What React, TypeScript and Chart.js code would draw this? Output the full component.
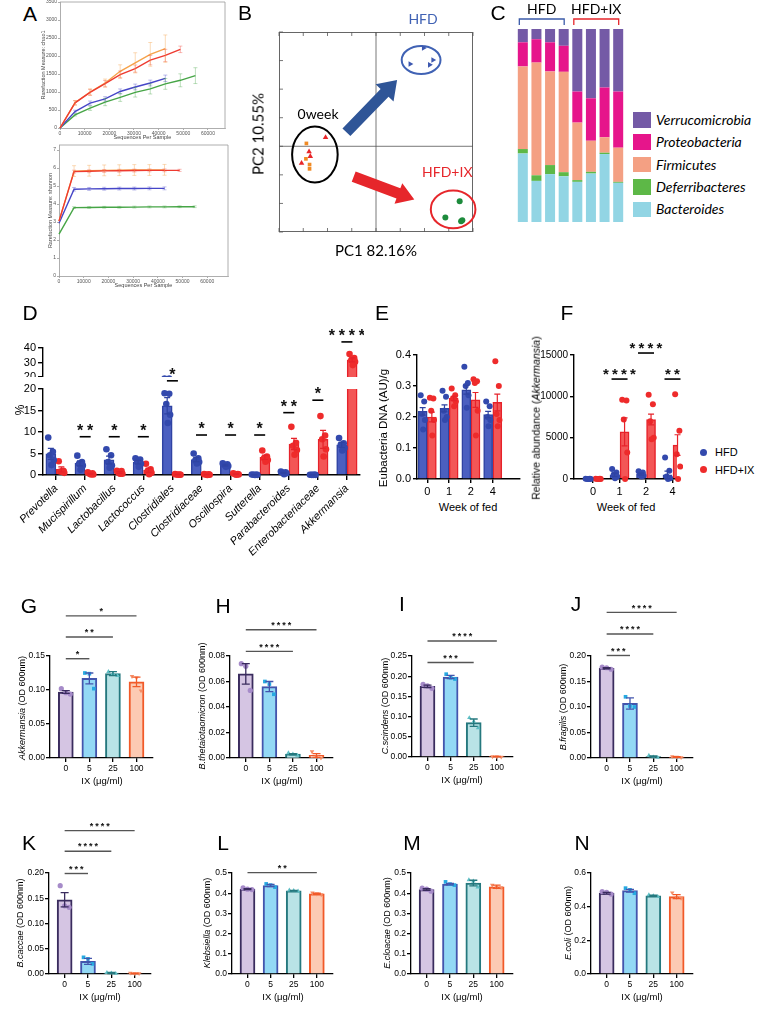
import React, { useEffect, useRef } from 'react';
import { Chart, registerables } from 'chart.js';

Chart.register(...registerables);

const ARIAL = '"Liberation Sans", Arial, Helvetica, sans-serif';
const HUMAN = 'Lato, "Open Sans", "DejaVu Sans", sans-serif';

// ---------------- Panel A (rarefaction) ----------------
const A_X = [0, 6100, 12200, 18300, 24400, 30500, 36600, 42700, 48800, 54900];
const A_X_TICKS = [0, 10000, 20000, 30000, 40000, 50000, 60000];
const A_CHAO_TICKS = [0, 500, 1000, 1500, 2000, 2500, 3000, 3500];
const A_SHAN_TICKS = [0, 1, 2, 3, 4, 5, 6, 7];
const A_CHAO_RED = [0, 700, 990, 1230, 1485, 1650, 1885, 2015, 2185];
const A_CHAO_RED_ERR = [0, 60, 80, 90, 100, 100, 130, 170, 90];
const A_CHAO_ORANGE = [0, 700, 1000, 1250, 1575, 1810, 2045, 2205];
const A_CHAO_ORANGE_ERR = [0, 60, 90, 110, 180, 280, 330, 380];
const A_CHAO_BLUE = [0, 455, 690, 810, 1015, 1140, 1250, 1380];
const A_CHAO_BLUE_ERR = [0, 40, 60, 60, 70, 80, 80, 90];
const A_CHAO_GREEN = [0, 365, 550, 720, 850, 990, 1085, 1225, 1325, 1455];
const A_CHAO_GREEN_ERR = [0, 30, 60, 100, 110, 130, 140, 150, 180, 220];
const A_SHAN_RED = [3.05, 5.8, 5.82, 5.84, 5.85, 5.86, 5.87, 5.87, 5.87];
const A_SHAN_RED_ERR = [0, 0.08, 0.08, 0.08, 0.08, 0.08, 0.08, 0.08, 0.06];
const A_SHAN_ORANGE = [3.05, 5.83, 5.85, 5.87, 5.88, 5.89, 5.89, 5.9];
const A_SHAN_ORANGE_ERR = [0, 0.3, 0.3, 0.3, 0.3, 0.3, 0.3, 0.3];
const A_SHAN_BLUE = [2.93, 4.82, 4.84, 4.85, 4.86, 4.86, 4.87, 4.87];
const A_SHAN_BLUE_ERR = [0, 0.1, 0.08, 0.08, 0.08, 0.08, 0.08, 0.08];
const A_SHAN_GREEN = [2.33, 3.8, 3.81, 3.82, 3.82, 3.83, 3.84, 3.84, 3.85, 3.85];
const A_SHAN_GREEN_ERR = [0, 0.05, 0.05, 0.05, 0.05, 0.05, 0.05, 0.05, 0.05, 0.05];

// ---------------- Panel B (PCoA) ----------------
const B_X_TICKS = [-4, -3, -2, -1, 0, 1, 2, 3, 4];
const B_Y_TICKS = [-3, -2, -1, 0, 1, 2, 3, 4];
const B_HFD_PC1 = [1.96, 2.35, 1.41, 2.21];
const B_HFD_PC2 = [3.44, 3.02, 2.88, 2.85];
const B_W0SQ_PC1 = [-2.87, -2.89, -2.74, -2.74];
const B_W0SQ_PC2 = [0.1, -0.44, -0.64, -0.79];
const B_W0TR_PC1 = [-2.08, -2.76, -2.71, -3.07];
const B_W0TR_PC2 = [0.31, -0.19, -0.35, -0.59];
const B_IX_PC1 = [3.45, 2.86, 3.51, 3.56];
const B_IX_PC2 = [-1.92, -2.49, -2.62, -2.59];
const B_GROUPS = ['HFD', '0week', 'HFD+IX'];
const B_GROUP_CX = [1.86, -2.52, 3.18];
const B_GROUP_CY = [3.02, -0.29, -2.21];
const B_GROUP_RX = [0.8, 0.94, 0.92];
const B_GROUP_RY = [0.49, 0.98, 0.66];
const B_LABEL_X = [1.94, -2.39, 2.94];
const B_LABEL_Y = [4.45, 1.13, -0.91];
const B_ARROW_FROM = [[-1.22, 0.49], [-0.92, -1.06]];
const B_ARROW_TO = [[0.87, 2.32], [1.58, -1.86]];

// ---------------- Panel C (phylum composition) ----------------
const C_SAMPLES = ['HFD-1', 'HFD-2', 'HFD-3', 'HFD-4', 'IX-1', 'IX-2', 'IX-3', 'IX-4'];
const C_PHYLA = ['Bacteroides', 'Deferribacteres', 'Firmicutes', 'Proteobacteria', 'Verrucomicrobia'];
const C_BACTEROIDES = [35.5, 21.3, 24.8, 23.7, 20.8, 25.1, 35.2, 20.3];
const C_DEFERRIBACTERES = [2.3, 2.9, 4.7, 2.1, 0.9, 0.9, 0.7, 0.5];
const C_FIRMICUTES = [42.8, 58.4, 48.5, 52.0, 29.8, 16.1, 8.0, 17.7];
const C_PROTEOBACTERIA = [12.5, 12.1, 15.1, 13.5, 16.1, 22.0, 25.8, 29.1];
const C_VERRUCOMICROBIA = [6.9, 5.3, 6.9, 8.7, 32.4, 35.9, 30.3, 32.4];
const C_BRACKETS = [{ label: 'HFD', from: 0, to: 3 }, { label: 'HFD+IX', from: 4, to: 7 }];

// ---------------- Panel D ----------------
const D_TAXA = ['Prevotella', 'Mucispirillum', 'Lactobacillus', 'Lactococcus', 'Clostridiales', 'Clostridiaceae', 'Oscillospira', 'Sutterella', 'Parabacteroides', 'Enterobacteriaceae', 'Akkermansia'];
const D_LOW_TICKS = [0, 5, 10, 15, 20];
const D_TOP_TICKS = [20, 30, 40];
const D_HFD_MEAN = [4.9, 2.7, 3.5, 3.0, 16.1, 3.6, 2.3, 0.05, 0.5, 0.05, 7.0];
const D_HFD_SEM = [1.3, 0.6, 0.9, 0.4, 1.9, 0.5, 0.2, 0.02, 0.1, 0.01, 0.6];
const D_IX_MEAN = [1.3, 0.3, 0.6, 1.1, 0.1, 0.1, 0.2, 4.1, 7.2, 8.3, 31.8];
const D_IX_SEM = [0.6, 0.1, 0.2, 0.5, 0.04, 0.04, 0.07, 0.5, 1.3, 2.1, 1.4];
const D_HFD_PTS = [
  [8.7, 5.4, 4.6, 3.5, 2.3], [4.5, 3.0, 2.6, 2.2, 1.2], [6.0, 4.6, 3.0, 2.2, 1.7], [3.9, 3.6, 3.0, 2.6, 1.9],
  [19.0, 18.9, 16.5, 14.0, 12.1], [5.0, 3.9, 3.4, 3.0, 2.7], [2.7, 2.5, 2.3, 2.1, 1.9], [0.1, 0.05, 0.05, 0.03, 0.02],
  [0.8, 0.6, 0.5, 0.4, 0.2], [0.05, 0.05, 0.04, 0.04, 0.03], [8.6, 7.4, 7.0, 6.3, 5.7],
];
const D_IX_PTS = [
  [3.2, 1.0, 0.8, 0.5, 0.8], [0.6, 0.4, 0.3, 0.1, 0.1], [1.0, 0.9, 0.5, 0.3, 0.3], [2.6, 1.3, 0.9, 0.5, 0.2],
  [0.2, 0.1, 0.1, 0.05, 0.05], [0.2, 0.15, 0.1, 0.05, 0.0], [0.4, 0.25, 0.2, 0.1, 0.05], [5.7, 4.3, 3.9, 3.5, 3.1],
  [11.2, 7.5, 6.8, 5.8, 4.7], [13.7, 9.2, 8.3, 6.0, 4.3], [35.8, 33.0, 31.5, 30.5, 28.2],
];
const D_SIG = [
  { from: 1, to: 1, y: 8.9, label: '**' }, { from: 2, to: 2, y: 8.9, label: '*' }, { from: 3, to: 3, y: 8.9, label: '*' },
  { from: 4, to: 4, y: 21.9, label: '*' }, { from: 5, to: 5, y: 9.3, label: '*' }, { from: 6, to: 6, y: 9.3, label: '*' },
  { from: 7, to: 7, y: 9.3, label: '*' }, { from: 8, to: 8, y: 14.5, label: '**' }, { from: 9, to: 9, y: 17.4, label: '*' },
];
const D_SIG_TOP = [{ from: 10, to: 10, y: 44.2, label: '****' }];

// ---------------- Panels E and F ----------------
const WEEKS = ['0', '1', '2', '4'];
const E_TICKS = [0, 0.1, 0.2, 0.3, 0.4];
const E_HFD_MEAN = [0.218, 0.228, 0.288, 0.208];
const E_HFD_SEM = [0.012, 0.011, 0.014, 0.01];
const E_IX_MEAN = [0.2, 0.26, 0.255, 0.247];
const E_IX_SEM = [0.016, 0.007, 0.024, 0.027];
const E_HFD_PTS = [[0.27, 0.25, 0.21, 0.19, 0.16], [0.285, 0.265, 0.22, 0.2, 0.19], [0.362, 0.31, 0.3, 0.27, 0.23], [0.25, 0.235, 0.2, 0.19, 0.17]];
const E_IX_PTS = [[0.262, 0.26, 0.22, 0.19, 0.14], [0.292, 0.27, 0.26, 0.25, 0.235], [0.322, 0.315, 0.31, 0.22, 0.14], [0.38, 0.3, 0.21, 0.19, 0.17]];
const F_TICKS = [0, 5000, 10000, 15000];
const F_HFD_MEAN = [0, 500, 600, 500];
const F_HFD_SEM = [0, 200, 120, 450];
const F_IX_MEAN = [0, 5700, 7200, 4100];
const F_IX_SEM = [0, 1700, 650, 1250];
const F_HFD_PTS = [[30, 20, 10, 0, 0], [1200, 800, 500, 300, 100], [950, 800, 600, 400, 300], [2600, 1000, 300, 100, 0]];
const F_IX_PTS = [[30, 20, 10, 0, 0], [9600, 9500, 7200, 3200, 0], [10200, 9050, 7000, 5000, 4800], [10250, 5850, 3000, 1500, 0]];
const F_SIG = [{ from: 1, to: 1, y: 12090, label: '****' }, { from: 2, to: 2, y: 15240, label: '****' }, { from: 3, to: 3, y: 12090, label: '**' }];

// ---------------- Panels G - N (IX dose) ----------------
const DOSES = ['0', '5', '25', '100'];
const G_Y_TICKS = [0, 0.05, 0.1, 0.15];
const G_MEAN = [0.097, 0.117, 0.124, 0.112];
const G_SEM = [0.002, 0.008, 0.003, 0.007];
const G_PTS = [[0.102, 0.096, 0.094], [0.125, 0.124, 0.102], [0.127, 0.124, 0.121], [0.12, 0.118, 0.099]];
const G_SIG = [{ from: 0, to: 1, y: 0.146, label: '*' }, { from: 0, to: 2, y: 0.178, label: '**' }, { from: 0, to: 3, y: 0.209, label: '*' }];
const H_Y_TICKS = [0, 0.02, 0.04, 0.06, 0.08];
const H_MEAN = [0.066, 0.056, 0.003, 0.002];
const H_SEM = [0.008, 0.004, 0.0005, 0.0015];
const H_PTS = [[0.074, 0.072, 0.053], [0.06, 0.058, 0.05], [0.004, 0.003, 0.002], [0.005, 0.001, 0.0]];
const H_SIG = [{ from: 0, to: 2, y: 0.0836, label: '****' }, { from: 0, to: 3, y: 0.1006, label: '****' }];
const I_Y_TICKS = [0, 0.05, 0.1, 0.15, 0.2, 0.25];
const I_MEAN = [0.175, 0.198, 0.085, 0.001];
const I_SEM = [0.003, 0.004, 0.009, 0.0005];
const I_PTS = [[0.18, 0.176, 0.17], [0.205, 0.196, 0.193], [0.097, 0.088, 0.072], [0.001, 0.001, 0.0]];
const I_SIG = [{ from: 0, to: 2, y: 0.234, label: '***' }, { from: 0, to: 3, y: 0.287, label: '****' }];
const J_Y_TICKS = [0, 0.05, 0.1, 0.15, 0.2];
const J_MEAN = [0.176, 0.107, 0.003, 0.002];
const J_SEM = [0.001, 0.011, 0.001, 0.0005];
const J_PTS = [[0.178, 0.177, 0.174], [0.12, 0.102, 0.1], [0.005, 0.002, 0.001], [0.003, 0.002, 0.001]];
const J_SIG = [{ from: 0, to: 1, y: 0.201, label: '***' }, { from: 0, to: 2, y: 0.243, label: '****' }, { from: 0, to: 3, y: 0.2855, label: '****' }];
const K_Y_TICKS = [0, 0.05, 0.1, 0.15, 0.2];
const K_MEAN = [0.147, 0.025, 0.002, 0.001];
const K_SEM = [0.014, 0.006, 0.001, 0.0005];
const K_PTS = [[0.175, 0.135, 0.132], [0.033, 0.03, 0.02], [0.003, 0.002, 0.001], [0.002, 0.001, 0.001]];
const K_SIG = [{ from: 0, to: 1, y: 0.199, label: '***' }, { from: 0, to: 2, y: 0.243, label: '****' }, { from: 0, to: 3, y: 0.284, label: '****' }];
const L_Y_TICKS = [0, 0.1, 0.2, 0.3, 0.4, 0.5];
const L_MEAN = [0.42, 0.438, 0.412, 0.397];
const L_SEM = [0.002, 0.005, 0.002, 0.003];
const L_PTS = [[0.426, 0.42, 0.418], [0.446, 0.44, 0.43], [0.415, 0.413, 0.41], [0.402, 0.397, 0.393]];
const L_SIG = [{ from: 0, to: 3, y: 0.502, label: '**' }];
const M_Y_TICKS = [0, 0.1, 0.2, 0.3, 0.4, 0.5];
const M_MEAN = [0.418, 0.445, 0.45, 0.432];
const M_SEM = [0.004, 0.004, 0.014, 0.008];
const M_PTS = [[0.425, 0.42, 0.41], [0.456, 0.445, 0.44], [0.466, 0.46, 0.43], [0.44, 0.43, 0.428]];
const N_Y_TICKS = [0, 0.2, 0.4, 0.6];
const N_MEAN = [0.48, 0.495, 0.465, 0.46];
const N_SEM = [0.005, 0.008, 0.004, 0.012];
const N_PTS = [[0.49, 0.485, 0.475], [0.51, 0.5, 0.48], [0.47, 0.465, 0.46], [0.483, 0.455, 0.45]];

// ---------------- styles ----------------
const A_COL = { red: '#ee3a30', orange: '#f6a24a', blue: '#4646c8', green: '#46a546' };
const A_ERR = { red: 'rgba(238,58,48,0.45)', orange: 'rgba(246,162,74,0.5)', blue: 'rgba(70,70,200,0.45)', green: 'rgba(70,165,70,0.45)' };
const C_COLORS = ['#92d5e4', '#5db847', '#f4a083', '#e6158b', '#745aa6'];
const BLUE_FILL = '#4b5fc0', BLUE_EDGE = '#2f43a2', BLUE_PT = '#3349ad';
const RED_FILL = '#f35656', RED_EDGE = '#e6222a', RED_PT = '#ee2b2b';
const DOSE_FILL = ['#d5c5e3', '#93d9f5', '#b9e3e6', '#fccab3'];
const DOSE_EDGE = ['#3a2c5e', '#4355ad', '#25787e', '#f15a29'];
const DOSE_PT = ['#a68bc9', '#27aae1', '#5fc0c6', '#f68e67'];
const DOSE_SHAPE = ['circle', 'rect', 'triangle', 'triangle'];
const DOSE_ROT = [0, 0, 0, 180];
const JIT5 = [-0.09, 0.07, -0.03, 0.1, 0.02, -0.06];
const JIT3 = [-0.19, 0.0, 0.19];

// ---------------- helpers ----------------
type Frame = { box: { left: number; top: number; width: number; height: number }; L: number; T: number; R: number; B: number };
function frame(x0: number, y0: number, x1: number, y1: number, L: number, T: number, R: number, B: number): Frame {
  const a = Math.round(x0), b = Math.round(y0), c = Math.round(x1), d = Math.round(y1);
  return { box: { left: a - L, top: b - T, width: c - a + L + R, height: d - b + T + B }, L, T, R, B };
}
const zeroPad = (s: any) => { s.paddingLeft = 0; s.paddingRight = 0; s.paddingTop = 0; s.paddingBottom = 0; };
const fitW = (w: number) => (s: any) => { s.width = w; zeroPad(s); };
const fitH = (h: number) => (s: any) => { s.height = h; zeroPad(s); };
const setTicks = (vals: number[]) => (s: any) => { s.ticks = vals.map((v) => ({ value: v })); };

function baseOptions(f: Frame, scales: any) {
  return {
    animation: false,
    responsive: false,
    maintainAspectRatio: false,
    events: [],
    layout: { padding: { left: 0, top: f.T, right: f.R, bottom: 0 }, autoPadding: false },
    plugins: { legend: { display: false }, tooltip: { enabled: false }, title: { display: false } },
    scales,
  };
}

function yAxis(o: any) {
  const color = o.color ?? '#000';
  const lw = o.lw ?? 1.4;
  return {
    type: 'linear', display: o.display ?? true, min: o.min, max: o.max,
    afterBuildTicks: setTicks(o.ticks), afterFit: fitW(o.w),
    ticks: { autoSkip: false, maxRotation: 0, minRotation: 0, padding: o.pad ?? 2, color: o.tickColor ?? color, font: { family: ARIAL, size: o.size }, callback: (v: number) => o.fmt(v) },
    grid: { drawOnChartArea: false, drawTicks: true, tickLength: o.tl ?? 4, color, lineWidth: o.glw ?? lw, offset: false },
    border: { display: true, color, width: lw },
    title: o.title ?? { display: false },
  };
}

function xAxis(o: any) {
  const color = o.color ?? '#000';
  const lw = o.lw ?? 1.4;
  return {
    type: 'linear', display: o.display ?? true, min: o.min, max: o.max, offset: false,
    afterBuildTicks: setTicks(o.ticks), afterFit: fitH(o.h),
    ticks: {
      autoSkip: false, maxRotation: o.rot ?? 0, minRotation: o.rot ?? 0, padding: o.pad ?? 2, color: o.tickColor ?? color,
      font: { family: ARIAL, size: o.size, style: o.italic ? 'italic' : 'normal' },
      callback: (v: number, i: number) => o.labels(v, i),
    },
    grid: { drawOnChartArea: false, drawTicks: true, tickLength: o.tl ?? 4, color, lineWidth: o.glw ?? lw, offset: false },
    border: { display: true, color, width: lw },
    title: o.title ?? { display: false },
  };
}

function errPlugin(items: any[], bottomPad = 2) {
  return {
    id: 'errbars',
    afterDatasetsDraw(chart: any) {
      const ctx = chart.ctx;
      const ca = chart.chartArea;
      ctx.save();
      ctx.beginPath();
      ctx.rect(ca.left - 6, ca.top - 2, ca.right - ca.left + 12, ca.bottom - ca.top + 2 + bottomPad);
      ctx.clip();
      items.forEach((it) => {
        const meta = chart.getDatasetMeta(it.ds);
        const ys = chart.scales[meta.yAxisID];
        const ds = chart.data.datasets[it.ds];
        meta.data.forEach((el: any, i: number) => {
          const e = it.err[i];
          if (!e) return;
          const raw = ds.data[i];
          const v = typeof raw === 'number' ? raw : raw.y;
          const x = el.x;
          const yt = ys.getPixelForValue(v + e);
          const yb = ys.getPixelForValue(v - e);
          ctx.strokeStyle = Array.isArray(it.color) ? it.color[i] : it.color;
          ctx.lineWidth = it.lw;
          ctx.beginPath();
          ctx.moveTo(x, yb); ctx.lineTo(x, yt);
          ctx.moveTo(x - it.cap, yt); ctx.lineTo(x + it.cap, yt);
          ctx.moveTo(x - it.cap, yb); ctx.lineTo(x + it.cap, yb);
          ctx.stroke();
        });
      });
      ctx.restore();
    },
  };
}

function sigPlugin(items: any[], o: any) {
  return {
    id: 'sig',
    afterDraw(chart: any) {
      const ctx = chart.ctx;
      const xs = chart.scales.x, ys = chart.scales.y;
      ctx.save();
      items.forEach((it) => {
        const a = xs.getPixelForValue(it.from) - o.ext;
        const b = xs.getPixelForValue(it.to) + o.ext;
        const y = ys.getPixelForValue(it.y);
        ctx.strokeStyle = o.color; ctx.lineWidth = o.lw;
        ctx.beginPath(); ctx.moveTo(a, y); ctx.lineTo(b, y); ctx.stroke();
        ctx.fillStyle = '#111';
        ctx.font = `bold ${o.size}px ${ARIAL}`;
        ctx.textAlign = 'center'; ctx.textBaseline = 'alphabetic';
        const n = it.label.length, cx = (a + b) / 2;
        for (let k = 0; k < n; k++) ctx.fillText('*', cx + (k - (n - 1) / 2) * o.pitch, y - o.gap + o.size * 0.57);
      });
      ctx.restore();
    },
  };
}

function boxPlugin(color: string) {
  return {
    id: 'boxframe',
    afterDraw(chart: any) {
      const { ctx, chartArea: ca } = chart;
      ctx.save();
      ctx.strokeStyle = color; ctx.lineWidth = 0.8;
      ctx.beginPath();
      ctx.moveTo(ca.left, ca.top); ctx.lineTo(ca.right, ca.top); ctx.lineTo(ca.right, ca.bottom);
      ctx.stroke();
      ctx.restore();
    },
  };
}

function ptsDs(pts: number[][], offset: number, jit: number[], color: string, radius: number, clip: any = 6, style = 'circle', rotation = 0) {
  const data: any[] = [];
  pts.forEach((arr, i) => arr.forEach((v, k) => data.push({ x: i + offset + jit[k % jit.length], y: v })));
  return { type: 'scatter', data, pointRadius: radius, pointStyle: style, rotation, backgroundColor: color, borderColor: color, borderWidth: 0, clip, order: 0 };
}

function barDs(means: number[], offset: number, fill: any, edge: any, thick: number, bw: number) {
  return {
    type: 'bar', data: means.map((v, i) => ({ x: i + offset, y: v })), backgroundColor: fill, borderColor: edge,
    borderWidth: bw, barThickness: thick, grouped: false, clip: 0, order: 1,
  };
}

// ---------------- panel configs ----------------
function panelA(top: boolean) {
  const f = top ? frame(60, 2, 225, 128, 20, 2, 3, 13) : frame(59, 145, 228, 276, 12, 3, 3, 13);
  const series: any[] = top
    ? [[A_CHAO_RED, A_CHAO_RED_ERR, 'red'], [A_CHAO_ORANGE, A_CHAO_ORANGE_ERR, 'orange'], [A_CHAO_BLUE, A_CHAO_BLUE_ERR, 'blue'], [A_CHAO_GREEN, A_CHAO_GREEN_ERR, 'green']]
    : [[A_SHAN_RED, A_SHAN_RED_ERR, 'red'], [A_SHAN_ORANGE, A_SHAN_ORANGE_ERR, 'orange'], [A_SHAN_BLUE, A_SHAN_BLUE_ERR, 'blue'], [A_SHAN_GREEN, A_SHAN_GREEN_ERR, 'green']];
  const make = () => ({
    type: 'line',
    data: {
      datasets: series.map(([ys, , c]) => ({
        data: ys.map((v: number, i: number) => ({ x: A_X[i], y: v })), borderColor: (A_COL as any)[c], borderWidth: 1.4,
        pointRadius: 0, fill: false, tension: 0, clip: 2,
      })),
    },
    options: baseOptions(f, {
      x: xAxis({
        min: 0, max: top ? 66900 : 68400, ticks: A_X_TICKS, labels: (v: number) => String(v), h: f.B, size: 5, color: '#999', tickColor: '#555', lw: 0.8, tl: 2, pad: 1,
        title: { display: true, text: 'Sequences Per Sample', color: '#444', font: { family: ARIAL, size: 5.5 }, padding: 0 },
      }),
      y: yAxis({
        min: 0, max: top ? 3500 : 7.28, ticks: top ? A_CHAO_TICKS : A_SHAN_TICKS, fmt: (v: number) => String(v), w: f.L, size: 5, color: '#999', tickColor: '#555', lw: 0.8, tl: 2, pad: 1,
        title: { display: true, text: top ? 'Rarefaction Measure: chao1' : 'Rarefaction Measure: shannon', color: '#444', font: { family: ARIAL, size: 5.5 }, padding: 0 },
      }),
    }),
    plugins: [errPlugin(series.map(([, e, c], i) => ({ ds: i, err: e, color: (A_ERR as any)[c], cap: 2, lw: 0.8 }))), boxPlugin('#999')],
  });
  return { key: top ? 'A1' : 'A2', f, make };
}

function drawArrow(ctx: any, x1: number, y1: number, x2: number, y2: number, shaft: number, headW: number, headL: number, color: string) {
  const dx = x2 - x1, dy = y2 - y1, len = Math.hypot(dx, dy);
  const ux = dx / len, uy = dy / len, nx = -uy, ny = ux;
  const bx = x2 - ux * headL, by = y2 - uy * headL;
  ctx.fillStyle = color;
  ctx.beginPath();
  ctx.moveTo(x1 + nx * shaft / 2, y1 + ny * shaft / 2);
  ctx.lineTo(bx + nx * shaft / 2, by + ny * shaft / 2);
  ctx.lineTo(bx + nx * headW / 2, by + ny * headW / 2);
  ctx.lineTo(x2, y2);
  ctx.lineTo(bx - nx * headW / 2, by - ny * headW / 2);
  ctx.lineTo(bx - nx * shaft / 2, by - ny * shaft / 2);
  ctx.lineTo(x1 - nx * shaft / 2, y1 - ny * shaft / 2);
  ctx.closePath();
  ctx.fill();
}

function panelB() {
  const f: Frame = { box: { left: 230, top: 0, width: 260, height: 240 }, L: 49, T: 32, R: 17, B: 8 };
  const groupColors = ['#4062b4', '#000000', '#e6262b'];
  const arrowColors = ['#2f5597', '#e6262b'];
  const plugin = {
    id: 'pcoa',
    beforeDatasetsDraw(chart: any) {
      const { ctx, chartArea: ca } = chart;
      const x = chart.scales.x, y = chart.scales.y;
      ctx.save();
      ctx.strokeStyle = '#666'; ctx.lineWidth = 1;
      ctx.strokeRect(ca.left + 0.5, ca.top + 0.5, ca.right - ca.left - 1, ca.bottom - ca.top - 1);
      const x0 = x.getPixelForValue(0), y0 = y.getPixelForValue(0);
      ctx.strokeStyle = '#555'; ctx.lineWidth = 0.8;
      ctx.beginPath();
      ctx.moveTo(x0, ca.top); ctx.lineTo(x0, ca.bottom);
      ctx.moveTo(ca.left, y0); ctx.lineTo(ca.right, y0);
      B_X_TICKS.forEach((v) => {
        const px = x.getPixelForValue(v);
        ctx.moveTo(px, ca.bottom); ctx.lineTo(px, ca.bottom - 4);
        ctx.moveTo(px, ca.top); ctx.lineTo(px, ca.top + 4);
      });
      B_Y_TICKS.forEach((v) => {
        const py = y.getPixelForValue(v);
        ctx.moveTo(ca.left, py); ctx.lineTo(ca.left + 4, py);
      });
      ctx.stroke();
      B_ARROW_FROM.forEach((a, i) => {
        const b = B_ARROW_TO[i];
        drawArrow(ctx, x.getPixelForValue(a[0]), y.getPixelForValue(a[1]), x.getPixelForValue(b[0]), y.getPixelForValue(b[1]), 11, i === 0 ? 25 : 22, i === 0 ? 18 : 17, arrowColors[i]);
      });
      B_GROUPS.forEach((g, i) => {
        const cx = x.getPixelForValue(B_GROUP_CX[i]), cy = y.getPixelForValue(B_GROUP_CY[i]);
        const rx = Math.abs(x.getPixelForValue(B_GROUP_CX[i] + B_GROUP_RX[i]) - cx);
        const ry = Math.abs(y.getPixelForValue(B_GROUP_CY[i] + B_GROUP_RY[i]) - cy);
        ctx.strokeStyle = groupColors[i]; ctx.lineWidth = 2;
        ctx.beginPath(); ctx.ellipse(cx, cy, rx, ry, 0, 0, Math.PI * 2); ctx.stroke();
        ctx.fillStyle = groupColors[i];
        ctx.font = `14px ${HUMAN}`; ctx.textAlign = 'center'; ctx.textBaseline = 'middle';
        ctx.fillText(g, x.getPixelForValue(B_LABEL_X[i]), y.getPixelForValue(B_LABEL_Y[i]));
      });
      ctx.restore();
    },
  };
  const pts = (xs: number[], ys: number[]) => xs.map((v, i) => ({ x: v, y: ys[i] }));
  const make = () => ({
    type: 'scatter',
    data: {
      datasets: [
        { data: pts(B_HFD_PC1, B_HFD_PC2), pointStyle: 'triangle', rotation: 90, pointRadius: 3.2, backgroundColor: '#3d58b0', borderWidth: 0 },
        { data: pts(B_W0SQ_PC1, B_W0SQ_PC2), pointStyle: 'rect', pointRadius: 2.6, backgroundColor: '#f08a24', borderWidth: 0 },
        { data: pts(B_W0TR_PC1, B_W0TR_PC2), pointStyle: 'triangle', pointRadius: 3.2, backgroundColor: '#e8262a', borderWidth: 0 },
        { data: pts(B_IX_PC1, B_IX_PC2), pointStyle: 'circle', pointRadius: 3, backgroundColor: '#1d8b3c', borderWidth: 0 },
      ],
    },
    options: {
      animation: false, responsive: false, events: [],
      layout: { padding: { left: f.L, top: f.T, right: f.R, bottom: f.B }, autoPadding: false },
      plugins: { legend: { display: false }, tooltip: { enabled: false } },
      scales: { x: { type: 'linear', display: false, min: -4, max: 4 }, y: { type: 'linear', display: false, min: -3, max: 4 } },
    },
    plugins: [plugin],
  });
  return { key: 'B', f, make };
}

function panelC() {
  const f: Frame = { box: { left: 480, top: 0, width: 150, height: 230 }, L: 36, T: 29, R: 5, B: 8 };
  const series = [C_BACTEROIDES, C_DEFERRIBACTERES, C_FIRMICUTES, C_PROTEOBACTERIA, C_VERRUCOMICROBIA];
  const bracketColors = ['#3b5ba9', '#e6262b'];
  const plugin = {
    id: 'brackets',
    afterDraw(chart: any) {
      const { ctx, chartArea: ca } = chart;
      const x = chart.scales.x;
      ctx.save();
      C_BRACKETS.forEach((g, i) => {
        const a = x.getPixelForValue(g.from) - 3.5, b = x.getPixelForValue(g.to) + 0.5;
        const yl = ca.top - 10, ye = ca.top - 4;
        ctx.strokeStyle = bracketColors[i]; ctx.lineWidth = 1.3;
        ctx.beginPath(); ctx.moveTo(a, ye); ctx.lineTo(a, yl); ctx.lineTo(b, yl); ctx.lineTo(b, ye); ctx.stroke();
        ctx.fillStyle = '#000';
        ctx.font = `14px ${HUMAN}`; ctx.textAlign = 'center'; ctx.textBaseline = 'middle';
        ctx.fillText(g.label, (a + b) / 2, ca.top - 20);
      });
      ctx.restore();
    },
  };
  const make = () => ({
    type: 'bar',
    data: {
      labels: C_SAMPLES,
      datasets: series.map((s, i) => ({ label: C_PHYLA[i], data: s, backgroundColor: C_COLORS[i], borderWidth: 0, barPercentage: 0.735, categoryPercentage: 1 })),
    },
    options: {
      animation: false, responsive: false, events: [],
      layout: { padding: { left: f.L, top: f.T, right: f.R, bottom: f.B }, autoPadding: false },
      plugins: { legend: { display: false }, tooltip: { enabled: false } },
      scales: { x: { display: false, stacked: true }, y: { display: false, stacked: true, min: 0, max: 100 } },
    },
    plugins: [plugin],
  });
  return { key: 'C', f, make };
}

const D_X_MIN = -0.45, D_X_MAX = 10.45, D_OFF = 0.18;
function panelD(upper: boolean) {
  const f = upper ? frame(43, 348, 360, 377, 40, 30, 4, 0) : frame(43, 389, 360, 475, 40, 32, 4, 92);
  const clip = upper ? { left: 6, right: 6, top: 6, bottom: 0 } : 6;
  const make = () => ({
    type: 'bar',
    data: {
      datasets: [
        ptsDs(D_HFD_PTS, -D_OFF, JIT5, BLUE_PT, 3.3, clip),
        ptsDs(D_IX_PTS, D_OFF, JIT5, RED_PT, 3.3, clip),
        barDs(D_HFD_MEAN, -D_OFF, BLUE_FILL, BLUE_EDGE, 10, 1.5),
        barDs(D_IX_MEAN, D_OFF, RED_FILL, RED_EDGE, 10, 1.5),
      ],
    },
    options: baseOptions(f, {
      x: xAxis({ display: !upper, min: D_X_MIN, max: D_X_MAX, ticks: D_TAXA.map((_, i) => i), labels: (_v: number, i: number) => D_TAXA[i], h: f.B, size: 11, rot: 45, italic: true, tl: 5 }),
      y: yAxis({ min: upper ? 20 : 0, max: upper ? 40 : 20, ticks: upper ? D_TOP_TICKS : D_LOW_TICKS, fmt: (v: number) => String(v), w: f.L, size: 11, tl: 5 }),
    }),
    plugins: [
      errPlugin([{ ds: 2, err: D_HFD_SEM, color: BLUE_EDGE, cap: 3, lw: 1.2 }, { ds: 3, err: D_IX_SEM, color: RED_EDGE, cap: 3, lw: 1.2 }], upper ? -2 : 2),
      sigPlugin(upper ? D_SIG_TOP : D_SIG, { ext: 5.5, lw: 1.6, color: '#000', size: 16, pitch: 10, gap: 10 }),
    ],
  });
  return { key: upper ? 'D2' : 'D1', f, make };
}

function panelEF(isF: boolean) {
  const f = isF ? frame(574, 355, 677, 479, 40, 30, 6, 18) : frame(417, 355, 520, 479, 32, 12, 4, 18);
  const off = isF ? 0.19 : 0.21;
  const make = () => ({
    type: 'bar',
    data: {
      datasets: [
        ptsDs(isF ? F_HFD_PTS : E_HFD_PTS, -off, JIT5, BLUE_PT, 3),
        ptsDs(isF ? F_IX_PTS : E_IX_PTS, off, JIT5, RED_PT, 3),
        barDs(isF ? F_HFD_MEAN : E_HFD_MEAN, -off, BLUE_FILL, BLUE_EDGE, 9, 1.5),
        barDs(isF ? F_IX_MEAN : E_IX_MEAN, off, RED_FILL, RED_EDGE, 9, 1.5),
      ],
    },
    options: baseOptions(f, {
      x: xAxis({ min: isF ? -0.72 : -0.47, max: isF ? 3.17 : 4.25, ticks: WEEKS.map((_, i) => i), labels: (_v: number, i: number) => WEEKS[i], h: f.B, size: 11, tl: 4 }),
      y: yAxis({
        min: 0, max: isF ? 15000 : 0.4, ticks: isF ? F_TICKS : E_TICKS, fmt: (v: number) => (isF ? String(v) : v.toFixed(1)), w: f.L, size: isF ? 10 : 11, tl: 4,
      }),
    }),
    plugins: [
      errPlugin([
        { ds: 2, err: isF ? F_HFD_SEM : E_HFD_SEM, color: BLUE_EDGE, cap: 3, lw: 1.2 },
        { ds: 3, err: isF ? F_IX_SEM : E_IX_SEM, color: RED_EDGE, cap: 3, lw: 1.2 },
      ]),
      sigPlugin(isF ? F_SIG : [], { ext: 8, lw: 1.6, color: '#000', size: 15, pitch: 9, gap: 9 }),
    ],
  });
  return { key: isF ? 'F' : 'E', f, make };
}

const DOSE_PANELS = [
  { key: 'G', x0: 50, y0: 656, x1: 153, y1: 758, ticks: G_Y_TICKS, dec: 2, mean: G_MEAN, sem: G_SEM, pts: G_PTS, sig: G_SIG },
  { key: 'H', x0: 230, y0: 656, x1: 333, y1: 758, ticks: H_Y_TICKS, dec: 2, mean: H_MEAN, sem: H_SEM, pts: H_PTS, sig: H_SIG },
  { key: 'I', x0: 412, y0: 656, x1: 513, y1: 757, ticks: I_Y_TICKS, dec: 2, mean: I_MEAN, sem: I_SEM, pts: I_PTS, sig: I_SIG },
  { key: 'J', x0: 591, y0: 656, x1: 693, y1: 758, ticks: J_Y_TICKS, dec: 2, mean: J_MEAN, sem: J_SEM, pts: J_PTS, sig: J_SIG },
  { key: 'K', x0: 49, y0: 873, x1: 151, y1: 974, ticks: K_Y_TICKS, dec: 2, mean: K_MEAN, sem: K_SEM, pts: K_PTS, sig: K_SIG },
  { key: 'L', x0: 232, y0: 873, x1: 333, y1: 974, ticks: L_Y_TICKS, dec: 1, mean: L_MEAN, sem: L_SEM, pts: L_PTS, sig: L_SIG },
  { key: 'M', x0: 411, y0: 873, x1: 513, y1: 974, ticks: M_Y_TICKS, dec: 1, mean: M_MEAN, sem: M_SEM, pts: M_PTS, sig: [] as any[] },
  { key: 'N', x0: 591, y0: 873, x1: 693, y1: 974, ticks: N_Y_TICKS, dec: 1, mean: N_MEAN, sem: N_SEM, pts: N_PTS, sig: [] as any[] },
];

function dosePanel(p: any) {
  const f = frame(p.x0, p.y0, p.x1, p.y1, 30, 62, 4, 18);
  const make = () => ({
    type: 'bar',
    data: {
      datasets: [
        ...DOSES.map((_, d) => ({
          type: 'scatter', data: p.pts[d].map((v: number, k: number) => ({ x: d + JIT3[k], y: v })),
          pointStyle: DOSE_SHAPE[d], rotation: DOSE_ROT[d], pointRadius: 2.6, backgroundColor: DOSE_PT[d], borderWidth: 0, clip: 6, order: 0,
        })),
        barDs(p.mean, 0, DOSE_FILL, DOSE_EDGE, 15, 2),
      ],
    },
    options: baseOptions(f, {
      x: xAxis({ min: -0.67, max: 3.7, ticks: DOSES.map((_, i) => i), labels: (_v: number, i: number) => DOSES[i], h: f.B, size: 8.5, tl: 4, lw: 1.3 }),
      y: yAxis({ min: 0, max: p.ticks[p.ticks.length - 1], ticks: p.ticks, fmt: (v: number) => v.toFixed(p.dec), w: f.L, size: 8.5, tl: 4, lw: 1.3, pad: 1 }),
    }),
    plugins: [
      errPlugin([{ ds: 4, err: p.sem, color: DOSE_EDGE, cap: 4, lw: 1.3 }]),
      sigPlugin(p.sig, { ext: 0, lw: 1.4, color: '#555', size: 9, pitch: 5.5, gap: 7 }),
    ],
  });
  return { key: p.key, f, make };
}

// ---------------- components ----------------
function ChartCanvas({ f, make }: { f: Frame; make: () => any }) {
  const ref = useRef<HTMLCanvasElement>(null);
  useEffect(() => {
    const chart = new Chart(ref.current as HTMLCanvasElement, make());
    return () => chart.destroy();
  }, []);
  const b = f.box;
  return <canvas ref={ref} width={b.width} height={b.height} style={{ position: 'absolute', left: b.left, top: b.top, width: b.width, height: b.height }} />;
}

function Txt({ x, y, size, rot = 0, color = '#000', family = ARIAL, italic = false, children }: any) {
  return (
    <div
      style={{
        position: 'absolute', left: x, top: y, transform: `translate(-50%, -50%) rotate(${rot}deg)`, fontSize: size,
        fontFamily: family, color, whiteSpace: 'nowrap', lineHeight: 1, fontStyle: italic ? 'italic' : 'normal',
      }}
    >
      {children}
    </div>
  );
}

const LETTERS: [string, number, number][] = [
  ['A', 30, 13], ['B', 245, 12], ['C', 498, 12], ['D', 30, 312], ['E', 382, 312], ['F', 567, 312],
  ['G', 29, 605], ['H', 223, 605], ['I', 402, 603], ['J', 576, 603], ['K', 29, 842], ['L', 223, 842], ['M', 412, 842], ['N', 582, 842],
];

const DOSE_TITLES: [any, number, number, number, number][] = [
  [<><i>Akkermansia</i> (OD 600nm)</>, 22, 708, 102, 781],
  [<><i>B.thetaiotaomicron</i> (OD 600nm)</>, 202, 706, 282, 781],
  [<><i>C.scindens</i> (OD 600nm)</>, 385, 706, 462, 780],
  [<><i>B.fragilis</i> (OD 600nm)</>, 563, 707, 642, 781],
  [<><i>B.caccae</i> (OD 600nm)</>, 20, 923, 100, 997],
  [<><i>Klebsiella</i> (OD 600nm)</>, 207, 923, 283, 997],
  [<><i>E.cloacae</i> (OD 600nm)</>, 387, 923, 462, 997],
  [<><i>E.coli</i> (OD 600nm)</>, 568, 923, 642, 997],
];

export default function App() {
  const charts = [panelA(true), panelA(false), panelB(), panelC(), panelD(false), panelD(true), panelEF(false), panelEF(true), ...DOSE_PANELS.map(dosePanel)];
  const legendOrder = [4, 3, 2, 1, 0];
  return (
    <div style={{ position: 'absolute', left: 0, top: 0, width: 762, height: 1009, background: '#fff', overflow: 'hidden', fontFamily: ARIAL }}>
      {charts.map((c) => <ChartCanvas key={c.key} f={c.f} make={c.make} />)}
      {LETTERS.map(([t, x, y]) => <Txt key={t} x={x} y={y} size={21}>{t}</Txt>)}
      <Txt x={258} y={134} size={15} rot={-90} family={HUMAN}>PC2 10.55%</Txt>
      <Txt x={376} y={250} size={15} family={HUMAN}>PC1 82.16%</Txt>
      {legendOrder.map((s, r) => (
        <React.Fragment key={C_PHYLA[s]}>
          <div style={{ position: 'absolute', left: 633, top: 112 + r * 22.4, width: 18, height: 15.5, background: C_COLORS[s] }} />
          <div style={{ position: 'absolute', left: 656, top: 119.7 + r * 22.4, transform: 'translateY(-50%)', fontSize: 14, fontFamily: HUMAN, fontStyle: 'italic', lineHeight: 1, whiteSpace: 'nowrap' }}>{C_PHYLA[s]}</div>
        </React.Fragment>
      ))}
      <Txt x={20} y={410} size={12} rot={-90}>%</Txt>
      <Txt x={384} y={428} size={11.5} rot={-90}>Eubacteria DNA (AU)/g</Txt>
      <Txt x={468} y={507} size={11}>Week of fed</Txt>
      <Txt x={536} y={418} size={10.5} rot={-90}>Relative abundance (<i>Akkermansia</i>)</Txt>
      <Txt x={626} y={507} size={11}>Week of fed</Txt>
      <div style={{ position: 'absolute', left: 700, top: 448.5, width: 7, height: 7, borderRadius: '50%', background: BLUE_PT }} />
      <div style={{ position: 'absolute', left: 700, top: 466, width: 7, height: 7, borderRadius: '50%', background: RED_PT }} />
      <div style={{ position: 'absolute', left: 715, top: 452, transform: 'translateY(-50%)', fontSize: 11, lineHeight: 1 }}>HFD</div>
      <div style={{ position: 'absolute', left: 715, top: 469.5, transform: 'translateY(-50%)', fontSize: 11, lineHeight: 1 }}>HFD+IX</div>
      {DOSE_TITLES.map(([t, tx, ty, xx, xy], i) => (
        <React.Fragment key={i}>
          <Txt x={tx} y={ty} size={9} rot={-90}>{t}</Txt>
          <Txt x={xx} y={xy} size={9.5}>IX (μg/ml)</Txt>
        </React.Fragment>
      ))}
    </div>
  );
}
